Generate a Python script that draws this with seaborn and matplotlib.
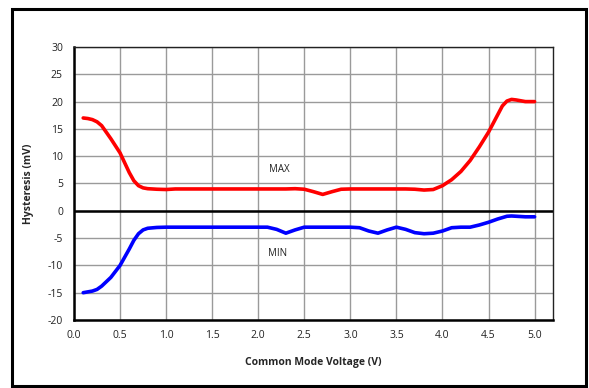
import matplotlib
matplotlib.use("Agg")
import matplotlib.pyplot as plt
import seaborn as sns
import pandas as pd
from matplotlib.patches import Rectangle

voltage = [0.1, 0.15, 0.2, 0.25, 0.3, 0.4, 0.5, 0.6, 0.65, 0.7, 0.75, 0.8, 0.9, 1.0,
           1.1, 1.2, 1.3, 1.4, 1.5, 1.6, 1.7, 1.8, 1.9, 2.0,
           2.1, 2.2, 2.3, 2.4, 2.5, 2.6, 2.7, 2.8, 2.9, 3.0,
           3.1, 3.2, 3.3, 3.4, 3.5, 3.6, 3.7, 3.8, 3.9, 4.0,
           4.1, 4.2, 4.3, 4.4, 4.5, 4.6, 4.65, 4.7, 4.75, 4.8, 4.9, 5.0]
hyst_max = [17.0, 16.9, 16.7, 16.3, 15.6, 13.2, 10.6, 7.0, 5.5, 4.6, 4.2, 4.05, 3.95, 3.9,
            4.0, 4.0, 4.0, 4.0, 4.0, 4.0, 4.0, 4.0, 4.0, 4.0,
            4.0, 4.0, 4.0, 4.05, 3.95, 3.5, 3.0, 3.5, 3.95, 4.0,
            4.0, 4.0, 4.0, 4.0, 4.0, 4.0, 3.95, 3.8, 3.9, 4.6,
            5.7, 7.2, 9.2, 11.7, 14.4, 17.6, 19.2, 20.1, 20.4, 20.3, 20.0, 20.0]
hyst_min = [-15.0, -14.85, -14.7, -14.4, -13.8, -12.2, -10.0, -7.0, -5.4, -4.2, -3.5, -3.2, -3.05, -3.0,
            -3.0, -3.0, -3.0, -3.0, -3.0, -3.0, -3.0, -3.0, -3.0, -3.0,
            -3.0, -3.4, -4.1, -3.5, -3.0, -3.0, -3.0, -3.0, -3.0, -3.0,
            -3.1, -3.7, -4.1, -3.5, -3.0, -3.4, -4.0, -4.2, -4.1, -3.7,
            -3.1, -3.0, -3.0, -2.6, -2.1, -1.5, -1.25, -1.0, -0.95, -1.0, -1.1, -1.1]
x_ticks = [0.0, 0.5, 1.0, 1.5, 2.0, 2.5, 3.0, 3.5, 4.0, 4.5, 5.0]
y_ticks = [-20, -15, -10, -5, 0, 5, 10, 15, 20, 25, 30]

sns.set_style("white")
plt.rcParams['font.family'] = ['Open Sans', 'DejaVu Sans']

fig = plt.figure(figsize=(5.89, 3.88), dpi=100)
ax = fig.add_axes([74/589, 1-320/388, (553-74)/589, (320-47)/388])

df = pd.DataFrame({"V": voltage, "max": hyst_max, "min": hyst_min})
sns.lineplot(data=df, x="V", y="max", ax=ax, color="#ff0000", linewidth=2.6,
             solid_joinstyle="round", solid_capstyle="round")
sns.lineplot(data=df, x="V", y="min", ax=ax, color="#0000ff", linewidth=2.6,
             solid_joinstyle="round", solid_capstyle="round")

ax.set_xlim(0, 5.2)
ax.set_ylim(-20, 30)
ax.set_xticks(x_ticks)
ax.set_xticklabels([f"{t:.1f}" for t in x_ticks])
ax.set_yticks(y_ticks)
ax.set_yticklabels([str(t) for t in y_ticks])
ax.tick_params(axis="both", length=0, labelsize=7.5, colors="#222222")
ax.tick_params(axis="x", pad=7)
ax.tick_params(axis="y", pad=8)
ax.grid(True, color="#9a9a9a", linewidth=1.0)
ax.set_axisbelow(True)
ax.axhline(0, color="black", linewidth=1.8, zorder=1.5)

for s in ["left", "bottom"]:
    ax.spines[s].set_color("black")
    ax.spines[s].set_linewidth(1.8)
for s in ["top", "right"]:
    ax.spines[s].set_color("#222222")
    ax.spines[s].set_linewidth(1.0)

ax.set_xlabel("Common Mode Voltage (V)", fontsize=7.5, fontweight="bold", labelpad=12)
ax.set_ylabel("Hysteresis (mV)", fontsize=7.5, fontweight="bold", labelpad=10)

ax.text(2.23, 7.5, "MAX", fontsize=7, ha="center", va="center", color="#222222")
ax.text(2.21, -7.75, "MIN", fontsize=7, ha="center", va="center", color="#222222")

fig.patches.append(Rectangle((12/589, 1-386/388), (586-12)/589, (386-9)/388,
                             transform=fig.transFigure, fill=False,
                             edgecolor="black", linewidth=2.2))

fig.savefig("out.png", dpi=100)
